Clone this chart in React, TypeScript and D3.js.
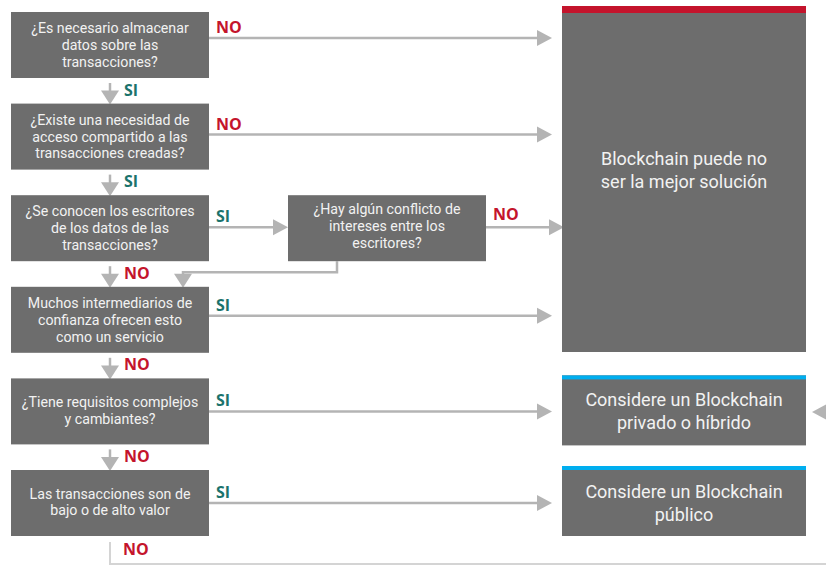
import React from "react";
import * as d3 from "d3";

const questions: string[][] = [
  ["¿Es necesario almacenar", "datos sobre las", "transacciones?"],
  ["¿Existe una necesidad de", "acceso compartido a las", "transacciones creadas?"],
  ["¿Se conocen los escritores", "de los datos de las", "transacciones?"],
  ["Muchos intermediarios de", "confianza ofrecen esto", "como un servicio"],
  ["¿Tiene requisitos complejos", "y cambiantes?"],
  ["Las transacciones son de", "bajo o de alto valor"],
];
const rightLabels = ["NO", "NO", "SI", "SI", "SI", "SI"];
const downLabels = ["SI", "SI", "NO", "NO", "NO", "NO"];
const conflictText = ["¿Hay algún conflicto de", "intereses entre los", "escritores?"];
const conflictLabel = "NO";
const outcomes: { lines: string[]; accent: string }[] = [
  { lines: ["Blockchain puede no", "ser la mejor solución"], accent: "red" },
  { lines: ["Considere un Blockchain", "privado o híbrido"], accent: "blue" },
  { lines: ["Considere un Blockchain", "público"], accent: "blue" },
];

const W = 826;
const H = 566;
const BOX = "#6d6d6d";
const LINE = "#b4b4b4";
const RED = "#c4142c";
const TEAL = "#1b736c";
const BLUE = "#00aeef";
const FONT = "Roboto, 'Open Sans', sans-serif";
const LABEL_FONT = "'Open Sans', Roboto, sans-serif";

const rowY = d3.scaleLinear().domain([0, 5]).range([12, 470]);
const lineOffset = [26, 31, 32, 29, 33, 33];
const boxH = 66;
const qx0 = 11, qx1 = 209;
const cx0 = 288, cx1 = 486;
const ox0 = 562, ox1 = 806;
const arrowTip = 552;

function HeadRight({ x, y }: { x: number; y: number }) {
  return <polygon points={`${x},${y} ${x - 15},${y - 8} ${x - 15},${y + 8}`} fill={LINE} />;
}
function HeadLeft({ x, y }: { x: number; y: number }) {
  return <polygon points={`${x},${y} ${x + 15},${y - 8} ${x + 15},${y + 8}`} fill={LINE} />;
}
function HeadDown({ x, y }: { x: number; y: number }) {
  return <polygon points={`${x},${y} ${x - 9},${y - 14} ${x + 9},${y - 14}`} fill={LINE} />;
}

function BoxText({ lines, cx, cy, size, lh }: { lines: string[]; cx: number; cy: number; size: number; lh: number }) {
  const start = cy - ((lines.length - 1) * lh) / 2;
  return (
    <g fontFamily={FONT} fontSize={size} fill="#f2f2f2" textAnchor="middle">
      {lines.map((l, i) => (
        <text key={i} x={cx} y={start + i * lh} dy="0.35em">{l}</text>
      ))}
    </g>
  );
}

export default function App() {
  const lineY = (i: number) => rowY(i) + lineOffset[i];
  const qcx = (qx0 + qx1) / 2;
  const downX = 110;
  const bigTop = 6, bigBot = 352;
  const hybTop = rowY(4) - 3, hybBot = rowY(4) + boxH + 1;
  const pubTop = rowY(5) - 4, pubBot = rowY(5) + boxH;
  const outBoxes = [
    { top: bigTop, bot: bigBot, barH: 7, textCy: 170 },
    { top: hybTop, bot: hybBot, barH: 4, textCy: 411 },
    { top: pubTop, bot: pubBot, barH: 4, textCy: 503 },
  ];
  const labelStyle = { fontFamily: LABEL_FONT, fontWeight: 700 as const, fontSize: 16 };

  return (
    <svg width={W} height={H} style={{ position: "absolute", left: 0, top: 0, background: "#fff" }}>
      {questions.map((_, i) => {
        const y = lineY(i);
        const tip = i === 2 ? cx0 : arrowTip;
        return (
          <g key={"h" + i}>
            <line x1={qx1} x2={tip - 12} y1={y} y2={y} stroke={LINE} strokeWidth={2.5} />
            <HeadRight x={tip} y={y} />
            <text x={216} y={y - 5} fill={rightLabels[i] === "NO" ? RED : TEAL} {...labelStyle}>
              {rightLabels[i]}
            </text>
          </g>
        );
      })}
      {questions.slice(0, 5).map((_, i) => {
        const y0 = rowY(i) + boxH + 5;
        const y1 = rowY(i + 1);
        return (
          <g key={"d" + i}>
            <line x1={downX} x2={downX} y1={y0} y2={y1 - 12} stroke={LINE} strokeWidth={2.5} />
            <HeadDown x={downX} y={y1 + 1} />
            <text x={124} y={y1 - 8} fill={downLabels[i] === "NO" ? RED : TEAL} {...labelStyle}>
              {downLabels[i]}
            </text>
          </g>
        );
      })}
      <path
        d={`M${downX},${rowY(5) + boxH + 6} V564 H${W}`}
        fill="none"
        stroke="#d4d4d4"
        strokeWidth={2}
      />
      <text x={123} y={555} fill={RED} {...labelStyle}>{downLabels[5]}</text>
      <HeadLeft x={812} y={412} />

      <line x1={cx1} x2={ox0 - 12} y1={lineY(2)} y2={lineY(2)} stroke={LINE} strokeWidth={2.5} />
      <HeadRight x={ox0 + 2} y={lineY(2)} />
      <text x={493} y={lineY(2) - 7} fill={RED} {...labelStyle}>{conflictLabel}</text>
      <path
        d={`M${(cx0 + cx1) / 2 - 50},${rowY(2) + boxH} V${rowY(2) + boxH + 11} H183 V${rowY(3) - 10}`}
        fill="none"
        stroke={LINE}
        strokeWidth={2.5}
      />
      <HeadDown x={183} y={rowY(3) + 1} />

      {questions.map((q, i) => (
        <g key={"q" + i}>
          <rect x={qx0} y={rowY(i)} width={qx1 - qx0} height={boxH} fill={BOX} />
          <BoxText lines={q} cx={qcx} cy={rowY(i) + boxH / 2 - (q.length === 2 ? 1 : 0)} size={14.2} lh={16.8} />
        </g>
      ))}
      <rect x={cx0} y={rowY(2)} width={cx1 - cx0} height={boxH} fill={BOX} />
      <BoxText lines={conflictText} cx={(cx0 + cx1) / 2} cy={rowY(2) + boxH / 2 - 2} size={14.2} lh={16.8} />

      {outcomes.map((o, i) => {
        const b = outBoxes[i];
        return (
          <g key={"o" + i}>
            <rect x={ox0} y={b.top} width={ox1 - ox0} height={b.bot - b.top} fill={BOX} />
            <rect x={ox0} y={b.top} width={ox1 - ox0} height={b.barH} fill={o.accent === "red" ? RED : BLUE} />
            <BoxText lines={o.lines} cx={(ox0 + ox1) / 2} cy={b.textCy} size={18} lh={23} />
          </g>
        );
      })}
    </svg>
  );
}
